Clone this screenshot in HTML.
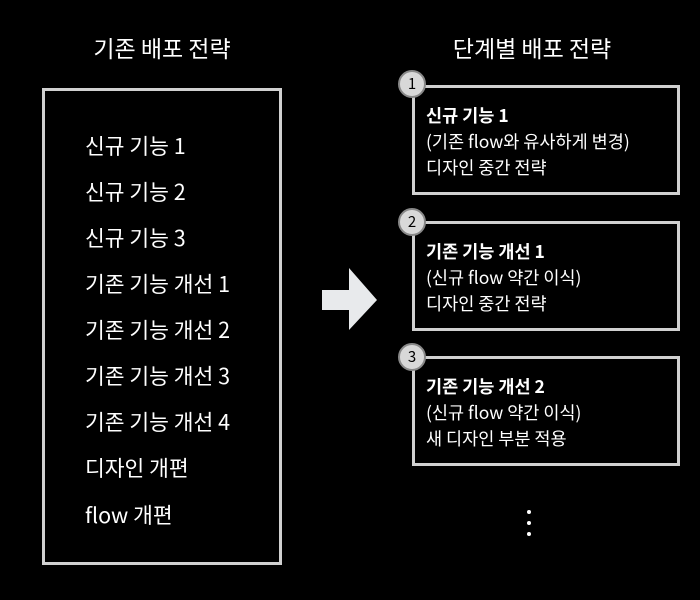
<!DOCTYPE html>
<html><head><meta charset="utf-8"><style>
html,body{margin:0;padding:0;background:#000;}
svg{display:block;}
text{font-family:"Noto Sans CJK KR","Liberation Sans",sans-serif;fill:#fff;}
</style></head><body>
<svg width="700" height="600" viewBox="0 0 700 600">
<rect width="700" height="600" fill="#000"/>
<text x="162" y="57" font-size="23" text-anchor="middle">기존 배포 전략</text>
<text x="532" y="57" font-size="23" text-anchor="middle">단계별 배포 전략</text>
<rect x="43.5" y="89.5" width="237" height="474" fill="none" stroke="#d0d0d0" stroke-width="3"/>
<g font-size="21.5">
<text x="85" y="154">신규 기능 1</text>
<text x="85" y="200">신규 기능 2</text>
<text x="85" y="246">신규 기능 3</text>
<text x="85" y="292">기존 기능 개선 1</text>
<text x="85" y="338">기존 기능 개선 2</text>
<text x="85" y="384">기존 기능 개선 3</text>
<text x="85" y="430">기존 기능 개선 4</text>
<text x="85" y="476">디자인 개편</text>
<text x="85" y="523">flow 개편</text>
</g>
<polygon points="322,290 349,290 349,268 377,300 349,330 349,310 322,310" fill="#e8eaec"/>
<g fill="none" stroke="#d0d0d0" stroke-width="3">
<rect x="413.5" y="86.5" width="265" height="107"/>
<rect x="413.5" y="222.5" width="265" height="107"/>
<rect x="413.5" y="357.5" width="265" height="107"/>
</g>
<g fill="#d8d8d8" stroke="#888" stroke-width="2">
<circle cx="412" cy="84" r="13"/>
<circle cx="412" cy="222" r="13"/>
<circle cx="412" cy="357" r="13"/>
</g>
<g font-size="15" text-anchor="middle">
<text x="412" y="89" style="fill:#000">1</text>
<text x="412" y="227" style="fill:#000">2</text>
<text x="412" y="362" style="fill:#000">3</text>
</g>
<g font-size="17.5">
<text x="426" y="122" font-weight="bold">신규 기능 1</text>
<text x="426" y="148">(기존 flow와 유사하게 변경)</text>
<text x="426" y="174">디자인 중간 전략</text>
<text x="426" y="258" font-weight="bold">기존 기능 개선 1</text>
<text x="426" y="284">(신규 flow 약간 이식)</text>
<text x="426" y="310">디자인 중간 전략</text>
<text x="426" y="393" font-weight="bold">기존 기능 개선 2</text>
<text x="426" y="419">(신규 flow 약간 이식)</text>
<text x="426" y="445">새 디자인 부분 적용</text>
</g>
<g fill="#fff">
<circle cx="529" cy="512" r="2"/>
<circle cx="529" cy="523" r="2"/>
<circle cx="529" cy="534" r="2"/>
</g>
</svg>
</body></html>
